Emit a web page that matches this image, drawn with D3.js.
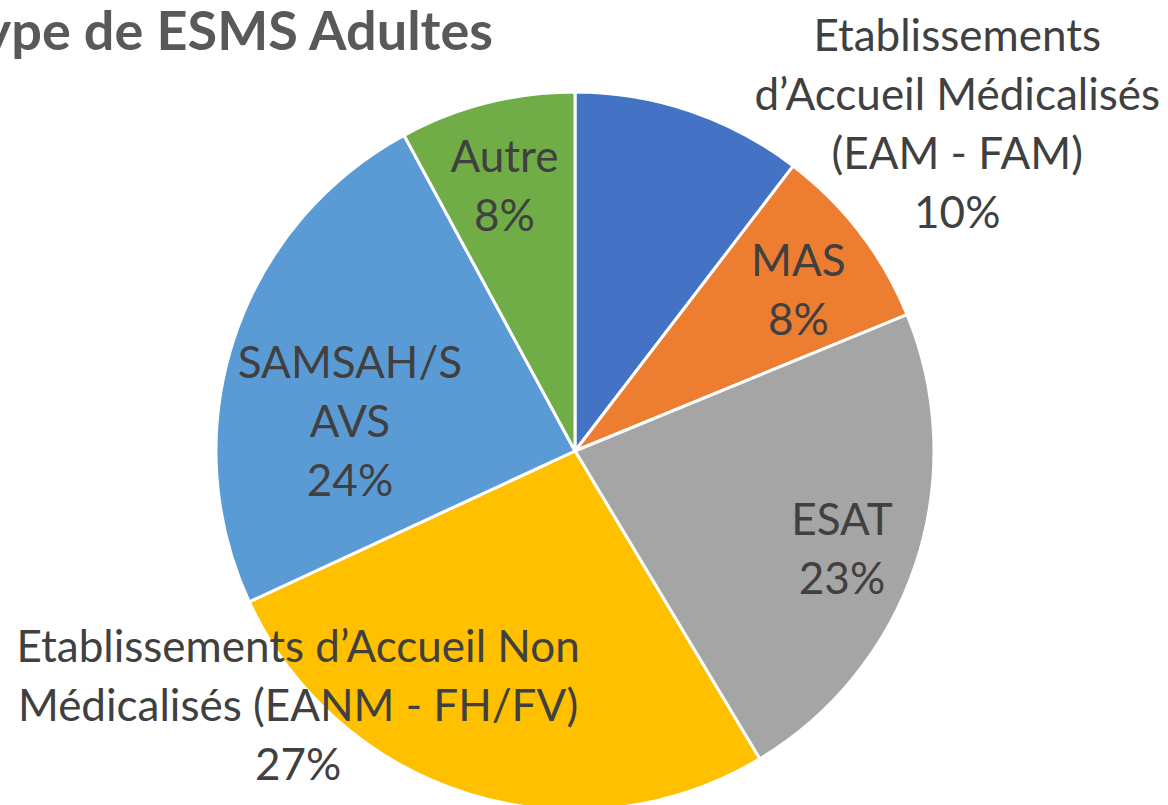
<!DOCTYPE html>
<html>
<head>
<meta charset="utf-8">
<script src="https://cdn.jsdelivr.net/npm/d3@7"></script>
<style>
  body { margin: 0; background: #fff; }
  svg { display: block; font-family: Lato, "Open Sans", sans-serif; }
</style>
</head>
<body>
<svg id="chart"></svg>
<script>
let categories = [
  "Etablissements d\u2019Accueil Médicalisés (EAM - FAM)",
  "MAS",
  "ESAT",
  "Etablissements d\u2019Accueil Non Médicalisés (EANM - FH/FV)",
  "SAMSAH/SAVS",
  "Autre"
]
let values = [10.4, 8.4, 22.6, 26.7, 24.0, 7.9]
// how each label is broken over lines, like in the original
let labelLines = [
  ["Etablissements", "d\u2019Accueil Médicalisés", "(EAM - FAM)"],
  ["MAS"],
  ["ESAT"],
  ["Etablissements d\u2019Accueil Non", "Médicalisés (EANM - FH/FV)"],
  ["SAMSAH/S", "AVS"],
  ["Autre"]
]
let colors = ["#4472C4", "#ED7D31", "#A5A5A5", "#FFC000", "#5B9BD5", "#70AD47"]

let width = 1168
let height = 805
let cx = 575
let cy = 451
let radius = 359
let lineH = 59

// manual nudges for labels that were dragged in the original
let nudges = [[294, -66], [5, 6], [6, 11], [-196, -8], [36, 57], [-3, 2]]

let svg = d3.select("#chart")
  .attr("width", width)
  .attr("height", height)

// title sits partly off the left edge, as in the original
svg.append("text")
  .attr("x", 493)
  .attr("y", 50)
  .attr("text-anchor", "end")
  .attr("font-weight", "bold")
  .attr("font-size", 54)
  .attr("fill", "#595959")
  .text("Type de ESMS Adultes")

let total = d3.sum(values)
let pie = d3.pie().sort(null).value(d => d)
let arcs = pie(values)

let arc = d3.arc().innerRadius(0).outerRadius(radius)
let labelArc = d3.arc().innerRadius(275).outerRadius(275)

let g = svg.append("g").attr("transform", "translate(" + cx + "," + cy + ")")

g.selectAll("path")
  .data(arcs)
  .enter()
  .append("path")
  .attr("d", arc)
  .attr("fill", (d, i) => colors[i])
  .attr("stroke", "#fff")
  .attr("stroke-width", 3)
  .attr("stroke-linejoin", "round")

let pct = d3.format(".0%")

let labels = g.selectAll("text.lbl")
  .data(arcs)
  .enter()
  .append("text")
  .attr("class", "lbl")
  .attr("text-anchor", "middle")
  .attr("font-size", 44)
  .attr("fill", "#404040")
  .each(function (d, i) {
    let c = labelArc.centroid(d)
    let x = c[0] + nudges[i][0]
    let y = c[1] + nudges[i][1]
    let lines = labelLines[i].concat([pct(d.value / total)])
    let top = y - (lines.length - 1) * lineH / 2
    let t = d3.select(this)
    lines.forEach((ln, k) => {
      t.append("tspan")
        .attr("x", x)
        .attr("y", top + k * lineH)
        .attr("dy", "0.35em")
        .text(ln)
    })
  })
</script>
</body>
</html>
